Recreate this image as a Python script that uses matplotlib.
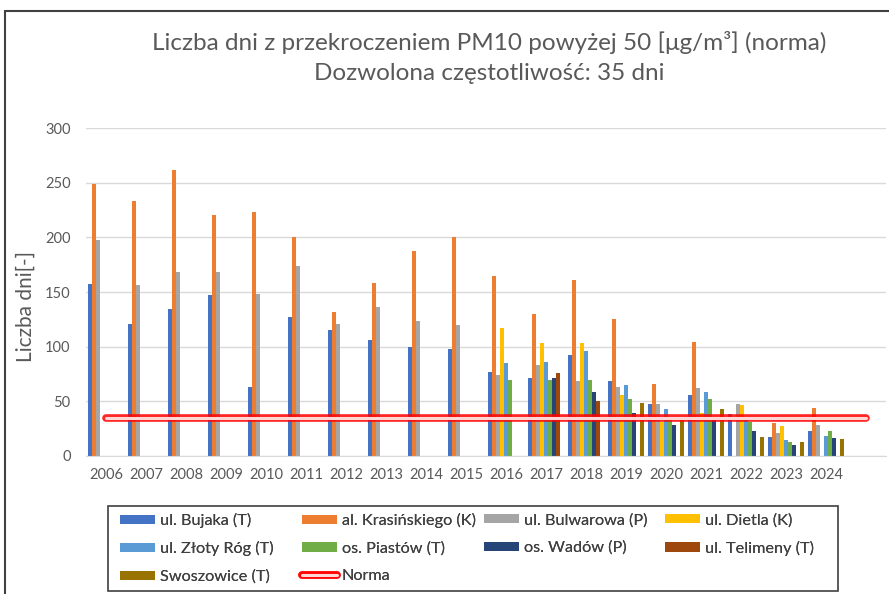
import numpy as np
import matplotlib
matplotlib.use("Agg")
import matplotlib.pyplot as plt
from matplotlib.patches import Rectangle

plt.rcParams['font.family'] = ['Lato', 'DejaVu Sans']

nan = np.nan
years = ['2006', '2007', '2008', '2009', '2010', '2011', '2012', '2013', '2014', '2015',
         '2016', '2017', '2018', '2019', '2020', '2021', '2022', '2023', '2024', '']

bujaka = [157, 121, 134, 147, 63, 127, 115, 106, 100, 98, 77, 71, 92, 68, 47, 56, 38, 17, 23]
krasinskiego = [249, 233, 262, 221, 223, 200, 132, 158, 188, 200, 165, 130, 161, 125, 66, 104, nan, 30, 44]
bulwarowa = [198, 156, 168, 168, 148, 174, 121, 136, 123, 120, 74, 83, 68, 63, 47, 62, 47, 21, 28]
dietla = [nan, nan, nan, nan, nan, nan, nan, nan, nan, nan, 117, 103, 103, 56, 31, 39, 46, 27, nan]
zloty_rog = [nan, nan, nan, nan, nan, nan, nan, nan, nan, nan, 85, 86, 96, 65, 43, 58, 33, 14, 18]
piastow = [nan, nan, nan, nan, nan, nan, nan, nan, nan, nan, 69, 69, 69, 52, 35, 52, 31, 13, 23]
wadow = [nan, nan, nan, nan, nan, nan, nan, nan, nan, nan, nan, 71, 58, 39, 28, 35, 23, 10, 16]
telimeny = [nan, nan, nan, nan, nan, nan, nan, nan, nan, nan, nan, 76, 50, nan, nan, nan, nan, nan, nan]
swoszowice = [nan, nan, nan, nan, nan, nan, nan, nan, nan, nan, nan, nan, nan, 48, 33, 43, 17, 13, 15]
norma = [35, 35, 35, 35, 35, 35, 35, 35, 35, 35, 35, 35, 35, 35, 35, 35, 35, 35, 35, 35]

series = [
    ('ul. Bujaka (T)', bujaka, '#4472C4'),
    ('al. Krasińskiego (K)', krasinskiego, '#ED7D31'),
    ('ul. Bulwarowa (P)', bulwarowa, '#A5A5A5'),
    ('ul. Dietla (K)', dietla, '#FFC000'),
    ('ul. Złoty Róg (T)', zloty_rog, '#5B9BD5'),
    ('os. Piastów (T)', piastow, '#70AD47'),
    ('os. Wadów (P)', wadow, '#264478'),
    ('ul. Telimeny (T)', telimeny, '#9E480E'),
    ('Swoszowice (T)', swoszowice, '#997300'),
]

W, H = 889, 594
fig = plt.figure(figsize=(W / 100, H / 100), dpi=100)
ax = fig.add_axes([86 / W, 1 - 455.7 / H, 800 / W, 327.4 / H])

x = np.arange(len(years))
nb = len(bujaka)
bw = 0.1
handles = {}
for i, (name, vals, col) in enumerate(series):
    b = ax.bar(x[:nb] + (i - 4) * bw, vals, width=bw, color=col, linewidth=0, zorder=2)
    handles[name] = b

l1, = ax.plot(x, norma, color='#FF0000', lw=5.5, solid_capstyle='round', zorder=3, alpha=0.85)
l2, = ax.plot(x, norma, color='#FFD6D6', lw=2.2, solid_capstyle='round', zorder=4)
handles['Norma'] = (l1, l2)

ax.set_xlim(-0.5, len(years) - 0.5)
ax.set_ylim(0, 300)
ax.set_yticks([0, 50, 100, 150, 200, 250, 300])
ax.set_xticks(x)
ax.set_xticklabels(years)
ax.grid(axis='y', color='#D9D9D9', lw=1, zorder=0)
ax.set_axisbelow(True)
for s in ['top', 'right', 'left']:
    ax.spines[s].set_visible(False)
ax.spines['bottom'].set_color('#D9D9D9')
ax.tick_params(axis='both', length=0, colors='#595959', labelsize=10.5)
ax.tick_params(axis='y', pad=11)
ax.tick_params(axis='x', pad=9)
ax.set_ylabel('Liczba dni[-]', fontsize=15, color='#595959')
ax.yaxis.label.set_va('center')
ax.yaxis.set_label_coords((26 - 86) / 800, (455.7 - 307) / 327.4)

fig.text(489 / W, 1 - 43 / H, 'Liczba dni z przekroczeniem PM10 powyżej 50 [μg/m³] (norma)',
         ha='center', va='center', fontsize=17.5, color='#595959')
fig.text(489 / W, 1 - 74 / H, 'Dozwolona częstotliwość: 35 dni',
         ha='center', va='center', fontsize=17.5, color='#595959')

# chart border
fig.patches.append(Rectangle((5 / W, -0.05), 1.1, 1 - 11 / H + 0.05, transform=fig.transFigure,
                             fill=False, edgecolor='#404040', lw=1.5))

# legend: frame + four columns
fig.patches.append(Rectangle((108 / W, 1 - 591 / H), 730 / W, 85 / H, transform=fig.transFigure,
                             fill=False, edgecolor='#404040', lw=1.2))
columns = [
    (120, ['ul. Bujaka (T)', 'ul. Złoty Róg (T)', 'Swoszowice (T)']),
    (302, ['al. Krasińskiego (K)', 'os. Piastów (T)', 'Norma']),
    (484, ['ul. Bulwarowa (P)', 'os. Wadów (P)']),
    (665, ['ul. Dietla (K)', 'ul. Telimeny (T)']),
]
for xpos, names in columns:
    lg = fig.legend([handles[k] for k in names], names, loc='upper left',
                    bbox_to_anchor=(xpos / W, 1 - 513 / H), ncol=1,
                    fontsize=11.7, handlelength=2.15, handleheight=0.5, handletextpad=0.3,
                    labelspacing=0.82, borderpad=0, borderaxespad=0, frameon=False,
                    labelcolor='#404040')
    fig.add_artist(lg)

fig.savefig('out.png', dpi=100)
